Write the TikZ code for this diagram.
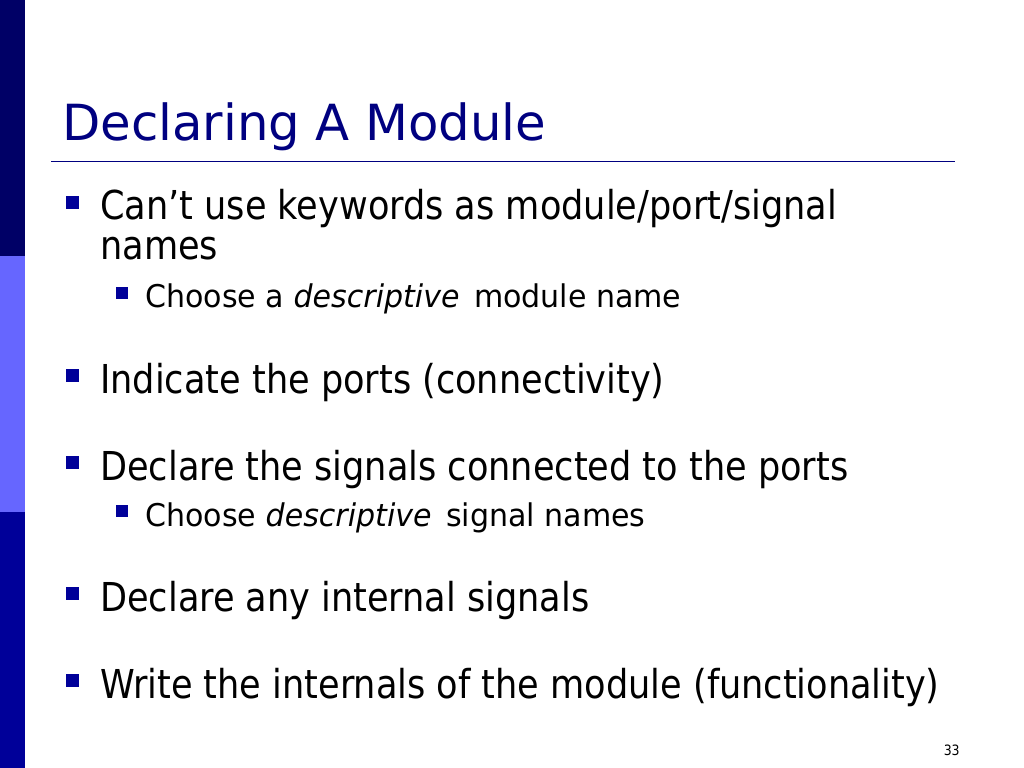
\documentclass[tikz,border=0pt]{standalone}
\usepackage{fontspec}
\setmainfont{DejaVu Sans Condensed}[FakeStretch=0.98]
\newfontfamily\titlefont{DejaVu Sans Condensed}[FakeStretch=1.11]
\newfontfamily\subfont{DejaVu Sans Condensed}[FakeStretch=1.067]
\definecolor{bartop}{RGB}{0,0,102}
\definecolor{barmid}{RGB}{102,102,255}
\definecolor{barlow}{RGB}{0,0,153}
\definecolor{titleblue}{RGB}{0,0,128}
\definecolor{bulletblue}{RGB}{0,0,153}
\tikzset{
	slidetitle/.style={anchor=base west, inner sep=0pt, text=titleblue, font=\titlefont\fontsize{35}{42}\selectfont},
	itemone/.style={anchor=base west, inner sep=0pt, font=\fontsize{28}{34}\selectfont},
	itemtwo/.style={anchor=base west, inner sep=0pt, font=\subfont\fontsize{22}{26}\selectfont},
	pagenum/.style={anchor=base east, inner sep=0pt, font=\fontsize{10}{12}\selectfont}
}
\begin{document}
\begin{tikzpicture}[x=0.703125pt,y=-0.703125pt]
			\useasboundingbox [fill=white] (0,0) rectangle (1024,768);
			\fill [color=bartop] (0,0) rectangle (25,256);
			\fill [color=barmid] (0,256) rectangle (25,512);
			\fill [color=barlow] (0,512) rectangle (25,768);
			\node [slidetitle] (title) at (62,141) {Declaring A Module};
			\draw [color=titleblue, line width=1.4pt] (51,161.5) -- (955,161.5);
			\node [itemone] (keywords) at (100,220) {Can’t use keywords as module/port/signal};
			\node [itemone] (names) at (100,260) {names};
			\node [itemtwo] (modname) at (145,308) {Choose a \textit{descriptive}\, module name};
			\node [itemone] (ports) at (100,393) {Indicate the ports (connectivity)};
			\node [itemone] (signals) at (100,480) {Declare the signals connected to the ports};
			\node [itemtwo] (signame) at (145,526) {Choose \textit{descriptive}\, signal names};
			\node [itemone] (internal) at (100,611) {Declare any internal signals};
			\node [itemone] (internals) at (100,698) {Write the internals of the module (functionality)};
			\node [pagenum] (page) at (960,755) {33};
			% square bullets
			\foreach \item in {keywords,ports,signals,internal,internals}
				\fill [color=bulletblue] ([shift={(-34,-24)}]\item.base west) rectangle ++(13,13);
			\foreach \item in {modname,signame}
				\fill [color=bulletblue] ([shift={(-29,-21)}]\item.base west) rectangle ++(12,12);
		\end{tikzpicture}
\end{document}
